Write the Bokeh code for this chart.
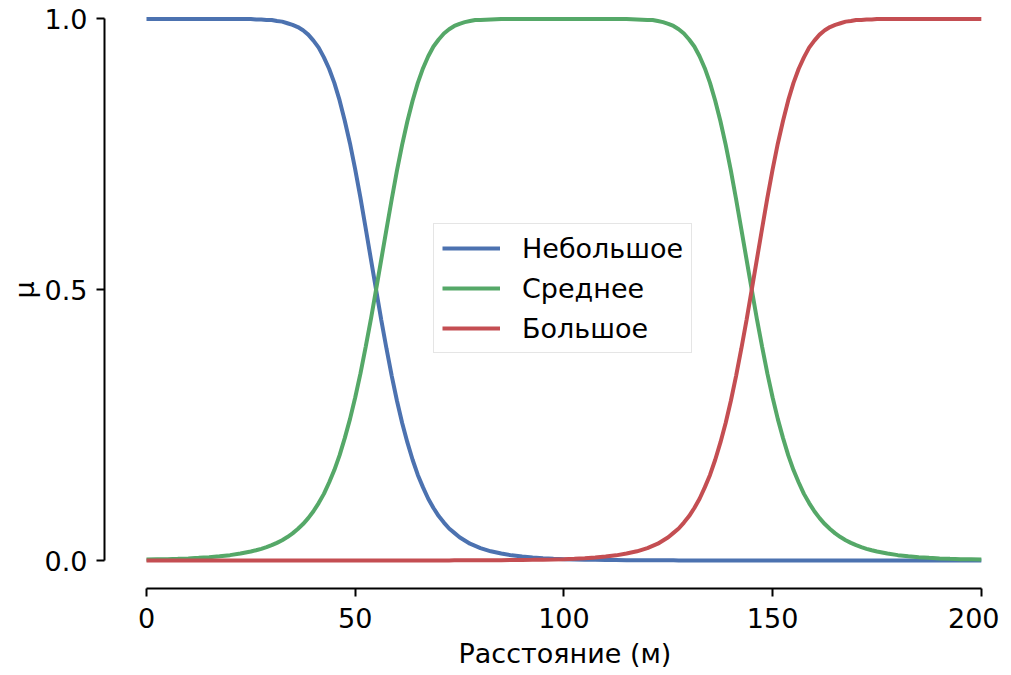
from bokeh.plotting import figure
from bokeh.models import Range1d, FixedTicker, NumeralTickFormatter, Legend, LegendItem, Title
from bokeh.embed import file_html
from bokeh.resources import INLINE

# distance grid (m), step 2.5
x = [i * 2.5 for i in range(81)]

small = [1.0, 1.0, 1.0, 1.0, 1.0, 1.0, 1.0, 1.0, 1.0, 1.0, 1.0,
         0.999, 0.998, 0.995, 0.989, 0.979, 0.960, 0.929, 0.882, 0.812, 0.722, 0.614, 0.5,
         0.391, 0.295, 0.218, 0.158, 0.114, 0.082, 0.059, 0.043, 0.031, 0.023, 0.017, 0.013,
         0.0095, 0.0072, 0.0055, 0.0042, 0.0033, 0.0025,
         0.002, 0.0016, 0.0012, 0.001, 0.0008, 0.0006, 0.0005, 0.0004, 0.0003, 0.0003,
         0.0002, 0.0002, 0.0002, 0.0001, 0.0001, 0.0001, 0.0001, 0.0001,
         0.0, 0.0, 0.0, 0.0, 0.0, 0.0, 0.0, 0.0, 0.0, 0.0, 0.0, 0.0,
         0.0, 0.0, 0.0, 0.0, 0.0, 0.0, 0.0, 0.0, 0.0, 0.0]

medium = [0.0017, 0.0021, 0.0025, 0.0031, 0.0039, 0.0049, 0.0061, 0.0078, 0.0099, 0.0128,
          0.0165, 0.0216, 0.0283, 0.0375, 0.0501, 0.0673, 0.091, 0.123, 0.167, 0.226,
          0.301, 0.394, 0.5,
          0.612, 0.720, 0.811, 0.882, 0.931, 0.962, 0.981, 0.991, 0.996, 0.998, 0.999,
          1.0, 1.0, 1.0, 1.0, 1.0, 1.0, 1.0, 1.0, 1.0, 1.0, 1.0, 1.0, 1.0,
          0.999, 0.998, 0.996, 0.991, 0.981, 0.962, 0.931, 0.882, 0.811, 0.720, 0.612,
          0.5, 0.394, 0.301, 0.226, 0.167, 0.123, 0.091, 0.0673, 0.0501, 0.0375,
          0.0283, 0.0216, 0.0165, 0.0128, 0.0099, 0.0078, 0.0061, 0.0049, 0.0039,
          0.0031, 0.0025, 0.0021, 0.0017]

large = [0.0, 0.0, 0.0, 0.0, 0.0, 0.0, 0.0, 0.0, 0.0, 0.0, 0.0,
         0.0, 0.0, 0.0, 0.0, 0.0, 0.0, 0.0, 0.0, 0.0, 0.0, 0.0,
         0.0001, 0.0001, 0.0001, 0.0001, 0.0001, 0.0002, 0.0002, 0.0002, 0.0003, 0.0003,
         0.0004, 0.0005, 0.0006, 0.0008, 0.001, 0.0012, 0.0016, 0.002,
         0.0025, 0.0033, 0.0042, 0.0055, 0.0072, 0.0095, 0.013, 0.017, 0.023, 0.031,
         0.043, 0.059, 0.082, 0.114, 0.158, 0.218, 0.295, 0.391,
         0.5, 0.614, 0.722, 0.812, 0.882, 0.929, 0.960, 0.979, 0.989, 0.995, 0.998, 0.999,
         1.0, 1.0, 1.0, 1.0, 1.0, 1.0, 1.0, 1.0, 1.0, 1.0, 1.0]

# extra readings in the steep transition zones (half steps)
x_fine = [26.25 + 2.5 * i for i in range(22)] + [121.25 + 2.5 * i for i in range(22)]

small_fine = [0.999, 0.998, 0.996, 0.992, 0.985, 0.971, 0.947, 0.908, 0.850, 0.770, 0.670,
              0.557, 0.444, 0.341, 0.254, 0.186, 0.135, 0.097, 0.070, 0.051, 0.037, 0.027,
              0.0003, 0.0003, 0.0003, 0.0002, 0.0002, 0.0001, 0.0001, 0.0001, 0.0001, 0.0001,
              0.0, 0.0, 0.0, 0.0, 0.0, 0.0, 0.0, 0.0, 0.0, 0.0, 0.0, 0.0]

medium_fine = [0.0189, 0.0247, 0.0326, 0.0433, 0.0581, 0.0782, 0.106, 0.144, 0.194, 0.261, 0.345,
               0.445, 0.556, 0.667, 0.768, 0.849, 0.909, 0.949, 0.973, 0.987, 0.994, 0.998,
               0.998, 0.994, 0.987, 0.973, 0.949, 0.909, 0.849, 0.768, 0.667, 0.556, 0.445,
               0.345, 0.261, 0.194, 0.144, 0.106, 0.0782, 0.0581, 0.0433, 0.0326, 0.0247, 0.0189]

large_fine = [0.0, 0.0, 0.0, 0.0, 0.0, 0.0, 0.0, 0.0, 0.0, 0.0, 0.0, 0.0,
              0.0001, 0.0001, 0.0001, 0.0001, 0.0001, 0.0002, 0.0002, 0.0003, 0.0003, 0.0003,
              0.027, 0.037, 0.051, 0.070, 0.097, 0.135, 0.186, 0.254, 0.341, 0.444, 0.557,
              0.670, 0.770, 0.850, 0.908, 0.947, 0.971, 0.985, 0.992, 0.996, 0.998, 0.999]

labels = ["Небольшое", "Среднее", "Большое"]
colors = ["#4C72B0", "#55A868", "#C44E52"]
x_ticks = [0, 50, 100, 150, 200]
y_ticks = [0, 0.5, 1.0]
x_title = "Расстояние (м)"
y_title = "μ"

FONT = "DejaVu Sans"
FS = "27px"

p = figure(frame_width=881, frame_height=575, output_backend="svg", toolbar_location=None,
           x_range=Range1d(-10.06, 201.0), y_range=Range1d(-0.0517, 1.01),
           min_border_left=104, min_border_right=14, min_border_top=13, min_border_bottom=60)
p.outline_line_color = None
p.xgrid.visible = False
p.ygrid.visible = False
p.background_fill_color = "white"
p.border_fill_color = "white"

renderers = []
for ys, ysf, c in zip([small, medium, large], [small_fine, medium_fine, large_fine], colors):
    pts = sorted(zip(x + x_fine, ys + ysf))
    xs = [a for a, _ in pts]
    vs = [b for _, b in pts]
    r = p.line(xs, vs, line_color=c, line_width=4)
    renderers.append(r)

for ax in (p.xaxis[0], p.yaxis[0]):
    ax.axis_line_width = 2
    ax.axis_line_color = "black"
    ax.major_tick_line_width = 2
    ax.major_tick_line_color = "black"
    ax.major_tick_out = 8
    ax.major_tick_in = 0
    ax.minor_tick_out = 0
    ax.minor_tick_in = 0
    ax.major_label_text_font = FONT
    ax.major_label_text_font_size = FS
    ax.major_label_text_color = "black"

p.xaxis[0].ticker = FixedTicker(ticks=x_ticks)
p.yaxis[0].ticker = FixedTicker(ticks=y_ticks)
p.yaxis[0].formatter = NumeralTickFormatter(format="0.0")
p.xaxis[0].bounds = (0, 200)
p.yaxis[0].bounds = (0, 1)
p.xaxis[0].major_label_standoff = 11
p.yaxis[0].major_label_standoff = 9

# axis titles placed along the spines' data extent (like offset matplotlib spines)
xt = Title(text=x_title, align="left", offset=354, standoff=10, text_font=FONT,
           text_font_size=FS, text_font_style="normal", text_color="black")
yt = Title(text=y_title, align="left", offset=290, standoff=3, text_font=FONT,
           text_font_size=FS, text_font_style="normal", text_color="black")
p.add_layout(xt, "below")
p.add_layout(yt, "left")

legend = Legend(items=[LegendItem(label=l, renderers=[r]) for l, r in zip(labels, renderers)],
                location=(329, 235))
legend.label_text_font = FONT
legend.label_text_font_size = FS
legend.label_text_color = "black"
legend.glyph_width = 58
legend.glyph_height = 32
legend.label_height = 32
legend.label_standoff = 22
legend.spacing = 8
legend.padding = 8
legend.margin = 0
legend.border_line_color = "#cccccc"
legend.border_line_width = 1.5
legend.background_fill_color = "white"
legend.background_fill_alpha = 0.8
p.add_layout(legend, "center")

open("out.html", "w").write(file_html(p, INLINE))
